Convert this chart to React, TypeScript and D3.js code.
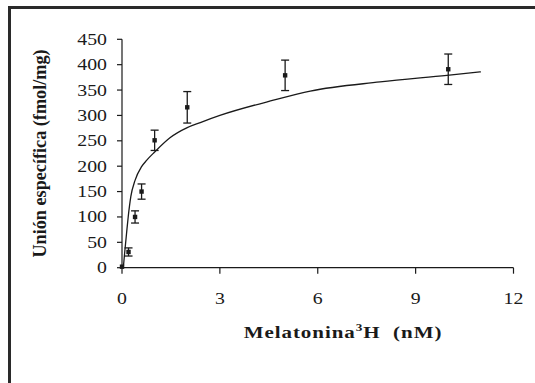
import * as d3 from "d3";

// measured points: concentration (nM), binding (fmol/mg), SEM
const concentrations = [0, 0.2, 0.4, 0.6, 1, 2, 5, 10];
const binding = [2, 31, 100, 150, 251, 316, 379, 391];
const sem = [2, 8, 12, 15, 20, 31, 30, 30];

// fitted curve
const curveX = [0.04, 0.09, 0.14, 0.19, 0.27, 0.4, 0.6, 0.76, 1.0, 1.47, 2.0, 2.4, 3.0, 4.64, 5.77, 7.91, 9.96, 11];
const curveY = [0, 35, 68, 100, 140, 172, 199, 212, 228, 256, 276, 286, 300, 330, 348, 366, 379, 386];

const xTicks = [0, 3, 6, 9, 12];
const yTicks = [0, 50, 100, 150, 200, 250, 300, 350, 400, 450];

const W = 535;
const H = 383;
const font = "Liberation Serif, Times New Roman, Times, serif";
const ink = "#1a1a1a";

const App = () => {
  const x = d3.scaleLinear().domain([0, 12]).range([122, 513.5]);
  const y = d3.scaleLinear().domain([0, 450]).range([267.7, 39.3]);

  const line = d3
    .line<number>()
    .x((_, i) => x(curveX[i]))
    .y((_, i) => y(curveY[i]))
    .curve(d3.curveMonotoneX);

  const sx = 1.2; // the original is stretched sideways

  return (
    <svg
      width={W}
      height={H}
      style={{ position: "absolute", left: 0, top: 0, background: "#fff", fontFamily: font }}
    >
      <rect x={0} y={0} width={W} height={H} fill="#fff" />
      {/* frame, cut off at right and bottom */}
      <rect x={9.5} y={7.5} width={W + 20} height={H + 20} fill="none" stroke="#2a2a2a" strokeWidth={3} />

      {/* y axis */}
      <line x1={x(0)} x2={x(0)} y1={y(0)} y2={y(450)} stroke={ink} strokeWidth={1.2} />
      {yTicks.map((t) => (
        <g key={t}>
          <line x1={x(0) - 5} x2={x(0)} y1={y(t)} y2={y(t)} stroke={ink} strokeWidth={1.2} />
          <text
            transform={`translate(107,${y(t) + 5.5}) scale(${sx},1)`}
            textAnchor="end"
            style={{ fontFamily: font }}
            fontSize={16.5}
            fill={ink}
          >
            {t}
          </text>
        </g>
      ))}

      {/* x axis */}
      <line x1={x(0)} x2={x(12)} y1={y(0)} y2={y(0)} stroke={ink} strokeWidth={1.2} />
      {xTicks.map((t) => (
        <g key={t}>
          <line x1={x(t)} x2={x(t)} y1={y(0)} y2={y(0) + 6} stroke={ink} strokeWidth={1.2} />
          <text
            transform={`translate(${x(t)},${304}) scale(${sx},1)`}
            textAnchor="middle"
            style={{ fontFamily: font }}
            fontSize={16.5}
            fill={ink}
          >
            {t}
          </text>
        </g>
      ))}

      {/* axis titles */}
      <text
        transform={`translate(46,${153.5}) rotate(-90)`}
        textAnchor="middle"
        style={{ fontFamily: font }}
        fontSize={18.2}
        fontWeight="bold"
        fill={ink}
      >
        Unión específica (fmol/mg)
      </text>
      <text
        transform={`translate(343,338) scale(${sx},1)`}
        textAnchor="middle"
        style={{ fontFamily: font, whiteSpace: "pre" }}
        fontSize={17.5}
        fontWeight="bold"
        fill={ink}
        letterSpacing={0.8}
      >
        Melatonina<tspan dy={-7} fontSize={11}>3</tspan>
        <tspan dy={7}>{"H  (nM)"}</tspan>
      </text>

      {/* fitted curve */}
      <path d={line(curveX) ?? ""} fill="none" stroke={ink} strokeWidth={1.3} />

      {/* error bars and points */}
      {concentrations.map((c, i) => {
        const cx = x(c);
        const top = y(binding[i] + sem[i]);
        const bot = y(binding[i] - sem[i]);
        return (
          <g key={i} stroke={ink} strokeWidth={1.3}>
            {i > 0 && (
              <>
                <line x1={cx} x2={cx} y1={top} y2={bot} />
                <line x1={cx - 4} x2={cx + 4} y1={top} y2={top} />
                <line x1={cx - 4} x2={cx + 4} y1={bot} y2={bot} />
              </>
            )}
            <rect x={cx - 2.2} y={y(binding[i]) - 2.2} width={4.4} height={4.4} fill={ink} stroke="none" />
          </g>
        );
      })}
    </svg>
  );
};

export default App;
